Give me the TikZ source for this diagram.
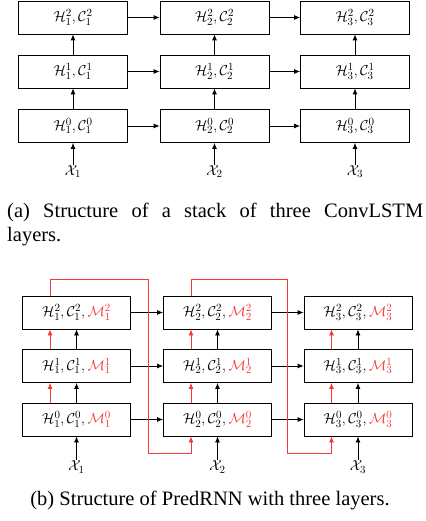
\documentclass[tikz,border=0pt]{standalone}
\usepackage{fontspec}
\setmainfont{Liberation Serif}
\usetikzlibrary{arrows.meta}
\definecolor{pred}{rgb}{0.96,0.22,0.22}
\begin{document}
\begin{tikzpicture}[x=1pt,y=-1pt,
  box/.style={draw, line width=0.8pt, minimum width=109pt, minimum height=33pt, inner sep=0pt, font=\fontsize{15.5}{18}\selectfont},
  arr/.style={line width=0.8pt, -{Latex[length=6pt,width=5pt]}},
  redarr/.style={pred, line width=0.8pt, -{Latex[length=6pt,width=5pt]}},
  redline/.style={pred, line width=0.8pt},
  lab/.style={inner sep=1pt, font=\fontsize{15.5}{18}\selectfont},
  captext/.style={inner sep=0pt, font=\fontsize{20.5}{24}\selectfont}]
\useasboundingbox (0,0) rectangle (425,521);
% ---------- panel (a) ----------
\foreach \i/\x in {1/73,2/214.5,3/355}{
  \node[box] (a\i0) at (\x,126) {$\mathcal{H}_{\i}^{0},\mathcal{C}_{\i}^{0}$};
  \node[box] (a\i1) at (\x,71.5) {$\mathcal{H}_{\i}^{1},\mathcal{C}_{\i}^{1}$};
  \node[box] (a\i2) at (\x,17.5) {$\mathcal{H}_{\i}^{2},\mathcal{C}_{\i}^{2}$};
  \node[lab] (xa\i) at (\x,172) {$\mathcal{X}_{\i}$};
  \draw[arr] (xa\i.north) -- (a\i0.south);
  \draw[arr] (a\i0.north) -- (a\i1.south);
  \draw[arr] (a\i1.north) -- (a\i2.south);
}
\foreach \r in {0,1,2}{
  \draw[arr] (a1\r.east) -- (a2\r.west);
  \draw[arr] (a2\r.east) -- (a3\r.west);
}
\node[captext, anchor=base west, text width=416pt, align=justify] (capa) at (7,217)
  {(a) Structure of a stack of three ConvLSTM\linebreak layers.};
% ---------- panel (b) ----------
\foreach \i/\x in {1/76.5,2/217.5,3/358}{
  \node[box, minimum width=108pt] (b\i0) at (\x,419.5) {$\mathcal{H}_{\i}^{0},\mathcal{C}_{\i}^{0},{\color{pred}\mathcal{M}_{\i}^{0}}$};
  \node[box, minimum width=108pt] (b\i1) at (\x,366) {$\mathcal{H}_{\i}^{1},\mathcal{C}_{\i}^{1},{\color{pred}\mathcal{M}_{\i}^{1}}$};
  \node[box, minimum width=108pt] (b\i2) at (\x,312.5) {$\mathcal{H}_{\i}^{2},\mathcal{C}_{\i}^{2},{\color{pred}\mathcal{M}_{\i}^{2}}$};
  \node[lab] (xb\i) at (\x,467) {$\mathcal{X}_{\i}$};
  \draw[arr] (xb\i.north) -- (b\i0.south);
  \draw[arr] (b\i0.north) -- (b\i1.south);
  \draw[arr] (b\i1.north) -- (b\i2.south);
  \draw[redarr] ([xshift=-26.5pt]b\i0.north) -- ([xshift=-26.5pt]b\i1.south);
  \draw[redarr] ([xshift=-26.5pt]b\i1.north) -- ([xshift=-26.5pt]b\i2.south);
}
\foreach \r in {0,1,2}{
  \draw[arr] (b1\r.east) -- (b2\r.west);
  \draw[arr] (b2\r.east) -- (b3\r.west);
}
\coordinate (r1t) at (148,279);
\coordinate (r1b) at (148,453);
\coordinate (r2t) at (287,279);
\coordinate (r2b) at (287,453);
\draw[redline] ([xshift=-26.5pt]b12.north) |- (r1t) -- (r1b);
\draw[redarr] (r1b) -| ([xshift=-26.5pt]b20.south);
\draw[redline] ([xshift=-26.5pt]b22.north) |- (r2t) -- (r2b);
\draw[redarr] (r2b) -| ([xshift=-26.5pt]b30.south);
\node[captext, anchor=base] (capb) at (210,505) {(b) Structure of PredRNN with three layers.};
\end{tikzpicture}
\end{document}
